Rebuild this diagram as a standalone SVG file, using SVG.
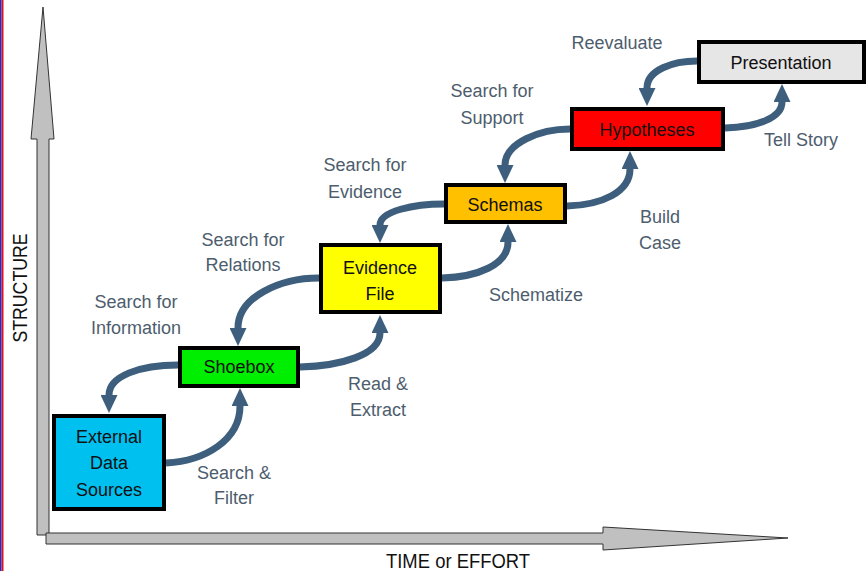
<svg xmlns="http://www.w3.org/2000/svg" width="867" height="571" viewBox="0 0 867 571">
<defs>
<marker id="ah" markerUnits="userSpaceOnUse" viewBox="0 0 18 17" refX="0" refY="8.5" markerWidth="18" markerHeight="17" orient="auto">
<path d="M0,0 L18,8.5 L0,17 z" fill="#3d5f7d"/>
</marker>
<style>
.box{stroke:#000;stroke-width:4}
.bt{font-family:"Liberation Sans",Arial,sans-serif;font-size:18px;fill:#111;text-anchor:middle}
.lb{font-family:"Liberation Sans",Arial,sans-serif;font-size:18px;fill:#4d5d6e;text-anchor:middle}
.ax{fill:#c0c0c0;stroke:#333;stroke-width:1}
.cn{fill:none;stroke:#3d5f7d;stroke-width:7;marker-end:url(#ah)}
.axl{font-family:"Liberation Sans",Arial,sans-serif;font-size:21px;fill:#111;text-anchor:middle}
</style>
</defs>
<rect x="0" y="0" width="867" height="571" fill="#fff"/>
<rect x="0" y="0" width="1.5" height="571" fill="#1030e0"/>
<rect x="1.5" y="0" width="2" height="571" fill="#e01020"/>
<g id="axes">
<path class="ax" d="M43,7 L54,139 L49,139 L49,535 L37,535 L37,139 L31,139 Z"/>
<path class="ax" d="M46,533 L603,533 L603,527 L788,538 L603,550 L603,544 L46,544 Z"/>
<text class="axl" transform="translate(27,288) rotate(-90)" textLength="109" lengthAdjust="spacingAndGlyphs">STRUCTURE</text>
<text class="axl" x="458" y="568" textLength="144" lengthAdjust="spacingAndGlyphs">TIME or EFFORT</text>
</g>
<g id="connectors">
<path class="cn" d="M166,463 C205,461 240,440 240,406"/>
<path class="cn" d="M300,367 C340,366 380,355 380,333"/>
<path class="cn" d="M442,278 C477,277 508,265 508,242"/>
<path class="cn" d="M567,206 C602,205 630,192 630,169"/>
<path class="cn" d="M725,128 C757,127 782,118 782,102"/>
<path class="cn" d="M178,365 C140,365 109,376 109,395"/>
<path class="cn" d="M319,278 C280,278 238,297 238,328"/>
<path class="cn" d="M444,204 C414,204 380,211 380,225"/>
<path class="cn" d="M570,129 C540,129 505,143 505,165"/>
<path class="cn" d="M697,61 C673,61 647,70 647,88"/>
</g>
<g id="labels">
<text class="lb" x="234" y="479">Search &amp;</text>
<text class="lb" x="234" y="504">Filter</text>
<text class="lb" x="378" y="390">Read &amp;</text>
<text class="lb" x="378" y="416">Extract</text>
<text class="lb" x="536" y="301">Schematize</text>
<text class="lb" x="660" y="223">Build</text>
<text class="lb" x="660" y="249">Case</text>
<text class="lb" x="801" y="146">Tell Story</text>
<text class="lb" x="617" y="49">Reevaluate</text>
<text class="lb" x="492" y="97">Search for</text>
<text class="lb" x="492" y="124">Support</text>
<text class="lb" x="365" y="171">Search for</text>
<text class="lb" x="365" y="198">Evidence</text>
<text class="lb" x="243" y="246">Search for</text>
<text class="lb" x="243" y="271">Relations</text>
<text class="lb" x="136" y="308">Search for</text>
<text class="lb" x="136" y="334">Information</text>
</g>
<g id="external">
<rect class="box" x="54" y="416" width="110" height="93" fill="#00c0f0"/>
<text class="bt" x="109" y="443">External</text>
<text class="bt" x="109" y="469">Data</text>
<text class="bt" x="109" y="496">Sources</text>
</g>
<g id="shoebox">
<rect class="box" x="180" y="348" width="118" height="38" fill="#00ee00"/>
<text class="bt" x="239" y="373">Shoebox</text>
</g>
<g id="evidence">
<rect class="box" x="321" y="245" width="119" height="67" fill="#ffff00"/>
<text class="bt" x="380" y="274">Evidence</text>
<text class="bt" x="380" y="300">File</text>
</g>
<g id="schemas">
<rect class="box" x="446" y="185" width="119" height="37" fill="#ffc000"/>
<text class="bt" x="505" y="211">Schemas</text>
</g>
<g id="hypotheses">
<rect class="box" x="572" y="109" width="151" height="40" fill="#ff0000"/>
<text class="bt" x="647" y="136">Hypotheses</text>
</g>
<g id="presentation">
<rect class="box" x="699" y="42" width="165" height="40" fill="#e6e6e6"/>
<text class="bt" x="781" y="69">Presentation</text>
</g>
</svg>
